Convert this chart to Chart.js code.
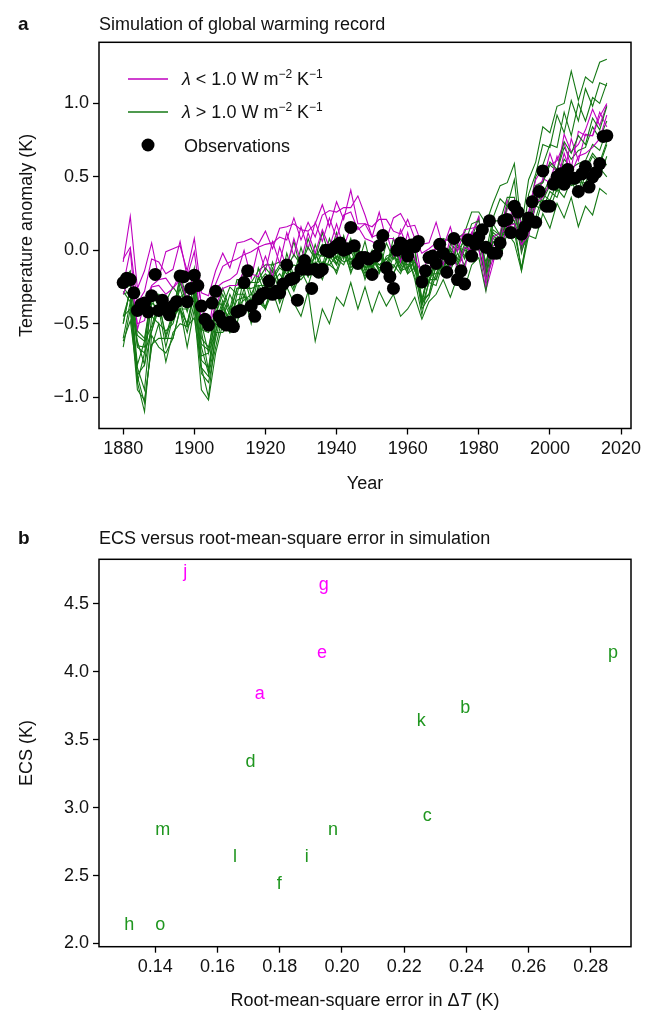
<!DOCTYPE html>
<html>
<head>
<meta charset="utf-8">
<title>Simulation of global warming record</title>
<script src="https://cdn.jsdelivr.net/npm/chart.js@4.4.1/dist/chart.umd.min.js"></script>
<style>
  html, body { margin: 0; padding: 0; background: #fff; }
  .panel { position: absolute; left: 0; width: 649px; }
</style>
</head>
<body>
<div class="panel" style="top:0;height:500px"><canvas id="warming" width="649" height="500"></canvas></div>
<div class="panel" style="top:500px;height:511px"><canvas id="ecs" width="649" height="511"></canvas></div>
<script>
const FONT = '"Liberation Sans", Arial, sans-serif';
const MAGENTA_LINE = '#bf00bf', GREEN_LINE = '#157815';
const MAGENTA_TEXT = '#ff00ff', GREEN_TEXT = '#1f961f';

// ---- panel a : temperature anomaly (K) ----
const obsStartYear = 1880;
const observations = [
  -0.22, -0.19, -0.20, -0.29, -0.41, -0.37, -0.36, -0.42, -0.31, -0.165,
  -0.41, -0.34, -0.40, -0.44, -0.38, -0.35, -0.175, -0.18, -0.35, -0.26,
  -0.17, -0.24, -0.38, -0.47, -0.51, -0.36, -0.28, -0.45, -0.49, -0.51,
  -0.49, -0.52, -0.42, -0.41, -0.22, -0.14, -0.38, -0.45, -0.33, -0.30,
  -0.29, -0.21, -0.30, -0.28, -0.29, -0.23, -0.10, -0.20, -0.19, -0.34,
  -0.13, -0.07, -0.13, -0.26, -0.13, -0.15, -0.13, 0.00, -0.01, 0.01,
  0.03, 0.05, 0.00, 0.01, 0.155, 0.03, -0.09, -0.05, -0.05, -0.06,
  -0.165, -0.04, 0.03, 0.10, -0.12, -0.18, -0.26, 0.00, 0.05, 0.03,
  -0.04, 0.035, 0.025, 0.06, -0.215, -0.14, -0.05, -0.04, -0.09, 0.04,
  -0.02, -0.15, -0.06, 0.08, -0.20, -0.14, -0.23, 0.07, -0.04, 0.04,
  0.09, 0.14, 0.02, 0.20, -0.02, -0.02, 0.05, 0.20, 0.21, 0.12,
  0.30, 0.26, 0.11, 0.16, 0.22, 0.33, 0.19, 0.40, 0.54, 0.30,
  0.30, 0.45, 0.50, 0.52, 0.45, 0.55, 0.49, 0.49, 0.40, 0.52,
  0.57, 0.43, 0.50, 0.53, 0.59, 0.775, 0.78
];

// simulations, one value every 2 years from 1880 to 2016
const simStartYear = 1880, simStep = 2;
const simA = [
  -0.30, -0.18, -0.50, -0.48, -0.25, -0.24, -0.30, -0.26, -0.20, -0.34,
  -0.14, -0.48, -0.52, -0.38, -0.26, -0.24, -0.24, -0.14, -0.16, -0.18,
  -0.04, -0.18, 0.02, -0.12, 0.08, -0.08, 0.12, -0.02, 0.14, 0.02,
  0.18, 0.02, 0.16, 0.16, 0.08, 0.06, 0.02, 0.08, 0.08, -0.08,
  0.12, -0.06, -0.16, -0.16, 0.04, -0.10, 0.08, -0.14, 0.02, 0.00,
  0.14, -0.20, -0.06, 0.00, 0.16, 0.18, 0.04, 0.10, 0.32, 0.36,
  0.46, 0.46, 0.66, 0.52, 0.64, 0.66, 0.70, 0.76, 0.92
];
const simB = [
  -0.28, -0.35, -0.62, -0.78, -0.33, -0.45, -0.40, -0.48, -0.22, -0.38,
  -0.32, -0.55, -0.82, -0.38, -0.47, -0.30, -0.41, -0.18, -0.35, -0.12,
  -0.26, -0.08, -0.25, -0.02, -0.18, 0.02, -0.14, 0.04, -0.11, 0.08,
  -0.06, 0.10, -0.09, 0.03, -0.12, 0.00, -0.15, 0.05, -0.06, 0.02,
  -0.12, 0.00, -0.36, -0.14, -0.20, 0.02, -0.04, 0.10, 0.04, 0.18,
  0.20, -0.02, 0.22, 0.35, 0.30, 0.48, 0.02, 0.38, 0.52, 0.72,
  0.70, 0.92, 0.80, 1.02, 0.88, 1.10, 0.98, 1.14, 1.12
];
const simC = [
  -0.45, -0.28, -0.78, -0.62, -0.52, -0.35, -0.60, -0.44, -0.40, -0.50,
  -0.28, -0.72, -0.70, -0.55, -0.36, -0.50, -0.38, -0.34, -0.30, -0.35,
  -0.40, -0.28, -0.42, -0.25, -0.36, -0.45, -0.28, -0.62, -0.40, -0.50,
  -0.32, -0.38, -0.22, -0.40, -0.25, -0.42, -0.28, -0.38, -0.30, -0.45,
  -0.40, -0.32, -0.47, -0.35, -0.30, -0.20, -0.32, -0.18, -0.26, -0.10,
  -0.05, -0.28, 0.02, -0.06, 0.12, 0.05, -0.14, 0.10, 0.08, 0.25,
  0.15, 0.32, 0.22, 0.36, 0.16, 0.30, 0.24, 0.42, 0.38
];
const simD = [
  -0.25, -0.32, -0.58, -0.62, -0.30, -0.38, -0.35, -0.25, -0.32, -0.28,
  -0.24, -0.50, -0.70, -0.34, -0.38, -0.25, -0.30, -0.12, -0.30, -0.20,
  -0.12, -0.18, -0.10, -0.12, -0.03, -0.10, 0.02, -0.06, 0.04, -0.02,
  0.06, -0.04, 0.02, -0.08, -0.02, -0.12, 0.04, -0.14, 0.03, -0.10,
  0.02, -0.14, -0.25, -0.20, -0.05, -0.12, 0.02, -0.06, 0.10, 0.05,
  0.16, -0.12, 0.18, 0.10, 0.30, 0.25, 0.08, 0.18, 0.44, 0.46,
  0.60, 0.55, 0.74, 0.66, 0.78, 0.72, 0.90, 0.82, 0.98
];
const simE = [
  -0.24, 0.00, -0.54, -0.36, -0.24, -0.20, -0.19, -0.26, -0.16, -0.16,
  -0.14, -0.36, -0.54, -0.26, -0.22, -0.20, -0.16, 0.00, -0.19, 0.02,
  -0.14, 0.06, -0.09, 0.12, -0.04, 0.16, 0.01, 0.19, 0.06, 0.22,
  0.08, 0.24, 0.26, 0.14, 0.18, 0.09, 0.11, 0.12, -0.04, 0.14,
  0.01, 0.06, -0.19, -0.01, 0.01, 0.04, -0.12, 0.09, -0.14, 0.12,
  0.01, -0.27, -0.09, 0.12, 0.14, 0.34, 0.01, 0.24, 0.31, 0.49,
  0.46, 0.64, 0.51, 0.76, 0.61, 0.79, 0.78, 0.94, 0.84
];
const simF = [
  -0.50, -0.26, -0.85, -0.78, -0.55, -0.36, -0.58, -0.42, -0.40, -0.50,
  -0.28, -0.75, -0.80, -0.56, -0.38, -0.50, -0.30, -0.30, -0.40, -0.18,
  -0.30, -0.14, -0.28, -0.08, -0.22, -0.04, -0.18, -0.02, -0.14, 0.02,
  -0.10, 0.04, -0.12, -0.06, -0.16, -0.02, -0.14, -0.08, -0.16, -0.04,
  -0.16, -0.06, -0.38, -0.22, -0.24, -0.08, -0.14, -0.02, -0.10, 0.04,
  0.00, -0.16, 0.06, 0.00, 0.16, 0.12, -0.12, 0.14, 0.18, 0.34,
  0.28, 0.42, 0.36, 0.48, 0.36, 0.52, 0.45, 0.56, 0.50
];
const simG = [
  -0.06, 0.02, -0.36, -0.28, -0.06, -0.08, -0.16, -0.13, 0.06, -0.18,
  -0.01, -0.38, -0.36, -0.23, -0.11, -0.08, -0.06, -0.03, -0.01, 0.02,
  0.04, 0.05, 0.09, 0.07, 0.22, 0.07, 0.19, 0.09, 0.24, 0.27,
  0.26, 0.29, 0.29, 0.37, 0.24, 0.09, 0.26, 0.07, 0.22, 0.25,
  0.16, 0.17, 0.04, 0.05, 0.19, 0.02, 0.16, -0.01, 0.14, 0.15,
  0.16, -0.13, 0.09, 0.12, 0.34, 0.22, 0.14, 0.22, 0.44, 0.47,
  0.66, 0.52, 0.79, 0.67, 0.72, 0.82, 0.96, 0.85, 0.99
];
const simH = [
  -0.26, -0.24, -0.55, -0.60, -0.30, -0.34, -0.36, -0.40, -0.20, -0.36,
  -0.18, -0.54, -0.56, -0.44, -0.30, -0.42, -0.26, -0.24, -0.22, -0.22,
  -0.16, -0.20, -0.12, -0.16, -0.10, -0.12, -0.05, -0.10, -0.02, -0.06,
  -0.02, -0.04, 0.00, -0.12, -0.02, -0.14, 0.00, -0.14, -0.02, -0.12,
  0.00, -0.14, -0.22, -0.22, -0.06, -0.12, 0.00, -0.08, 0.04, -0.02,
  0.08, -0.08, 0.10, 0.06, 0.20, 0.18, 0.06, 0.12, 0.30, 0.28,
  0.40, 0.36, 0.50, 0.44, 0.46, 0.46, 0.56, 0.50, 0.64
];
const simI = [
  -0.60, -0.35, -0.90, -1.10, -0.58, -0.66, -0.70, -0.60, -0.40, -0.66,
  -0.40, -0.95, -1.02, -0.70, -0.50, -0.56, -0.44, -0.40, -0.42, -0.36,
  -0.38, -0.26, -0.34, -0.18, -0.28, -0.14, -0.24, -0.08, -0.20, -0.06,
  -0.16, -0.02, -0.14, -0.08, -0.18, -0.06, -0.14, -0.12, -0.16, -0.06,
  -0.16, -0.12, -0.40, -0.32, -0.16, -0.16, -0.06, -0.10, 0.00, -0.02,
  0.02, -0.20, 0.06, 0.04, 0.18, 0.18, -0.14, 0.16, 0.22, 0.38,
  0.34, 0.46, 0.44, 0.54, 0.40, 0.56, 0.50, 0.62, 0.58
];
const simJ = [
  -0.08, 0.23, -0.26, -0.14, 0.05, -0.19, -0.01, 0.01, 0.03, -0.14,
  0.08, -0.29, -0.31, -0.14, -0.02, -0.12, 0.05, 0.06, 0.08, 0.04,
  0.13, 0.01, 0.15, 0.16, 0.18, 0.14, 0.13, 0.18, 0.31, 0.16,
  0.33, 0.21, 0.41, 0.18, 0.18, 0.16, 0.21, 0.21, 0.13, 0.11,
  0.21, 0.08, -0.02, 0.01, 0.05, 0.06, 0.08, 0.08, 0.11, 0.11,
  0.23, -0.24, 0.03, 0.06, 0.28, 0.31, 0.18, 0.26, 0.48, 0.56,
  0.58, 0.61, 0.73, 0.56, 0.81, 0.78, 0.78, 0.91, 1.00
];
const simK = [
  -0.20, -0.14, -0.65, -0.66, -0.30, -0.30, -0.40, -0.45, -0.16, -0.34,
  -0.12, -0.60, -0.66, -0.44, -0.26, -0.40, -0.20, -0.20, -0.22, -0.14,
  -0.10, -0.10, -0.08, -0.12, 0.06, -0.14, 0.08, -0.06, 0.12, -0.04,
  0.12, -0.06, 0.08, -0.10, 0.06, -0.14, 0.04, -0.12, 0.08, -0.06,
  0.04, -0.12, -0.26, -0.22, -0.08, -0.10, 0.04, 0.00, 0.06, 0.08,
  0.22, -0.14, 0.20, 0.20, 0.36, 0.36, 0.04, 0.24, 0.50, 0.58,
  0.72, 0.70, 0.94, 0.78, 1.00, 0.88, 1.04, 1.00, 1.14
];
const simL = [
  -0.45, -0.40, -0.80, -0.95, -0.45, -0.50, -0.55, -0.50, -0.34, -0.52,
  -0.30, -0.80, -0.86, -0.60, -0.40, -0.46, -0.34, -0.32, -0.34, -0.30,
  -0.30, -0.22, -0.16, -0.24, -0.20, -0.08, -0.10, -0.18, -0.12, -0.02,
  -0.06, -0.10, 0.02, 0.00, -0.12, -0.10, -0.16, -0.04, -0.02, -0.14,
  -0.12, -0.08, -0.36, -0.30, -0.10, -0.06, -0.12, 0.02, 0.00, 0.08,
  0.14, -0.14, 0.08, 0.06, 0.22, 0.20, 0.02, 0.12, 0.34, 0.36,
  0.46, 0.44, 0.56, 0.50, 0.54, 0.56, 0.66, 0.60, 0.74
];
const simM = [
  -0.30, -0.28, -0.66, -0.70, -0.36, -0.40, -0.46, -0.44, -0.26, -0.42,
  -0.24, -0.64, -0.68, -0.50, -0.34, -0.44, -0.26, -0.26, -0.26, -0.24,
  -0.24, -0.12, -0.22, -0.10, -0.18, -0.06, -0.16, -0.02, -0.12, 0.00,
  -0.09, 0.02, -0.10, 0.00, -0.14, -0.04, -0.10, -0.06, -0.12, -0.02,
  -0.10, -0.06, -0.34, -0.16, -0.16, -0.04, -0.10, 0.04, -0.04, 0.10,
  0.12, -0.12, 0.12, 0.08, 0.24, 0.24, 0.06, 0.14, 0.36, 0.38,
  0.49, 0.46, 0.62, 0.56, 0.59, 0.61, 0.72, 0.68, 0.82
];
const simN = [
  -0.66, -0.40, -0.95, -1.02, -0.66, -0.50, -0.76, -0.56, -0.50, -0.52,
  -0.46, -0.80, -1.00, -0.56, -0.56, -0.50, -0.50, -0.30, -0.50, -0.26,
  -0.40, -0.20, -0.36, -0.24, -0.20, -0.20, -0.14, -0.16, -0.10, -0.10,
  -0.14, 0.02, -0.16, -0.02, -0.20, -0.06, -0.12, -0.10, -0.10, -0.16,
  -0.04, -0.20, -0.44, -0.20, -0.20, -0.06, -0.10, 0.04, -0.06, 0.12,
  0.08, -0.16, 0.14, 0.10, 0.30, 0.30, -0.02, 0.16, 0.42, 0.46,
  0.58, 0.54, 0.70, 0.62, 0.68, 0.70, 0.84, 0.76, 0.88
];
const simO = [
  -0.62, -0.48, -0.86, -1.04, -0.64, -0.60, -0.60, -0.60, -0.40, -0.56,
  -0.36, -0.84, -0.90, -0.66, -0.44, -0.56, -0.38, -0.38, -0.36, -0.34,
  -0.26, -0.28, -0.24, -0.22, -0.16, -0.18, -0.10, -0.14, -0.08, -0.10,
  -0.04, -0.08, -0.06, -0.10, -0.08, -0.12, 0.00, -0.18, -0.04, -0.14,
  -0.04, -0.18, -0.34, -0.30, -0.10, -0.14, 0.00, -0.10, 0.02, 0.00,
  0.14, -0.14, 0.10, 0.06, 0.22, 0.20, 0.00, 0.10, 0.32, 0.34,
  0.44, 0.40, 0.54, 0.50, 0.52, 0.54, 0.64, 0.58, 0.72
];
const simP = [
  -0.50, -0.26, -0.90, -0.70, -0.55, -0.40, -0.66, -0.45, -0.40, -0.40,
  -0.34, -0.66, -0.84, -0.50, -0.54, -0.40, -0.42, -0.26, -0.44, -0.24,
  -0.30, -0.26, -0.24, -0.12, -0.26, -0.06, -0.18, -0.02, -0.04, -0.04,
  -0.10, 0.08, -0.06, -0.04, -0.04, -0.08, -0.10, -0.06, -0.02, 0.00,
  -0.14, 0.02, -0.34, -0.12, -0.12, 0.08, 0.06, 0.08, 0.12, 0.26,
  0.26, 0.18, 0.32, 0.44, 0.46, 0.59, 0.16, 0.48, 0.60, 0.84,
  0.80, 0.98, 1.00, 1.22, 1.02, 1.18, 1.14, 1.28, 1.30
];
const simulations = [
  ['a', simA], ['b', simB], ['c', simC], ['d', simD], ['e', simE], ['f', simF],
  ['g', simG], ['h', simH], ['i', simI], ['j', simJ], ['k', simK], ['l', simL],
  ['m', simM], ['n', simN], ['o', simO], ['p', simP]
];
const yearTicks = [1880, 1900, 1920, 1940, 1960, 1980, 2000, 2020];
const anomalyTicks = [-1.0, -0.5, 0.0, 0.5, 1.0];

// ---- panel b : ECS vs RMSE ----
const modelNames = ['a', 'b', 'c', 'd', 'e', 'f', 'g', 'h', 'i', 'j', 'k', 'l', 'm', 'n', 'o', 'p'];
const rmseValues = [0.172, 0.238, 0.226, 0.169, 0.192, 0.179, 0.1925, 0.130, 0.188, 0.149, 0.224, 0.165, 0.140, 0.1955, 0.140, 0.2855];
const ecsValues  = [3.8, 3.7, 2.9, 3.3, 4.1, 2.4, 4.6, 2.1, 2.6, 4.7, 3.6, 2.6, 2.8, 2.8, 2.1, 4.1];
const lowLambdaModels = ['a', 'e', 'g', 'j'];
const rmseTicks = [0.14, 0.16, 0.18, 0.20, 0.22, 0.24, 0.26, 0.28];
const ecsTicks = [2.0, 2.5, 3.0, 3.5, 4.0, 4.5];

const fmt = (v, d) => v.toFixed(d).replace('-', '\u2212');

// draws a run of text pieces (italic / superscript) starting at x
function drawRich(ctx, parts, x, y, align) {
  const fontOf = p => (p.italic ? 'italic ' : '') + (p.sup ? '12px ' : '18px ') + FONT;
  let width = 0;
  parts.forEach(p => { ctx.font = fontOf(p); width += ctx.measureText(p.text).width; });
  let cx = align === 'center' ? x - width / 2 : x;
  ctx.textAlign = 'left';
  parts.forEach(p => {
    ctx.font = fontOf(p);
    ctx.fillText(p.text, cx, p.sup ? y - 7 : y);
    cx += ctx.measureText(p.text).width;
  });
}

const decorPlugin = {
  id: 'panelDecor',
  afterDraw(chart, args, opts) {
    const ctx = chart.ctx, a = chart.chartArea;
    ctx.save();
    ctx.strokeStyle = '#000';
    ctx.lineWidth = 1.5;
    ctx.strokeRect(a.left, a.top, a.right - a.left, a.bottom - a.top);

    ctx.fillStyle = '#111';
    ctx.textBaseline = 'alphabetic';
    ctx.textAlign = 'left';
    ctx.font = 'bold 19px ' + FONT;
    ctx.fillText(opts.letter, 18, opts.titleY);
    ctx.font = '18px ' + FONT;
    ctx.fillText(opts.title, a.left, opts.titleY);

    drawRich(ctx, opts.xTitle, (a.left + a.right) / 2, opts.xTitleY, 'center');

    ctx.translate(32, (a.top + a.bottom) / 2);
    ctx.rotate(-Math.PI / 2);
    ctx.textAlign = 'center';
    ctx.font = '18px ' + FONT;
    ctx.fillText(opts.yTitle, 0, 0);
    ctx.restore();
  }
};

const legendPlugin = {
  id: 'simLegend',
  afterDatasetsDraw(chart) {
    const ctx = chart.ctx;
    ctx.save();
    ctx.textBaseline = 'alphabetic';
    const rows = [
      { color: MAGENTA_LINE, y: 79, sign: ' < ' },
      { color: GREEN_LINE, y: 112, sign: ' > ' }
    ];
    rows.forEach(r => {
      ctx.strokeStyle = r.color;
      ctx.lineWidth = 1.3;
      ctx.beginPath();
      ctx.moveTo(128, r.y);
      ctx.lineTo(168, r.y);
      ctx.stroke();
      ctx.fillStyle = '#111';
      drawRich(ctx, [
        { text: '\u03bb', italic: true }, { text: r.sign + '1.0 W m' }, { text: '\u22122', sup: true },
        { text: ' K' }, { text: '\u22121', sup: true }
      ], 182, r.y + 6, 'left');
    });
    ctx.fillStyle = '#000';
    ctx.beginPath();
    ctx.arc(148, 145, 6.5, 0, Math.PI * 2);
    ctx.fill();
    ctx.fillStyle = '#111';
    ctx.font = '18px ' + FONT;
    ctx.textAlign = 'left';
    ctx.fillText('Observations', 184, 151.5);
    ctx.restore();
  }
};

const letterPlugin = {
  id: 'modelLetters',
  afterDatasetsDraw(chart) {
    const ctx = chart.ctx;
    const meta = chart.getDatasetMeta(0);
    ctx.save();
    ctx.font = '18px ' + FONT;
    ctx.textAlign = 'left';
    ctx.textBaseline = 'alphabetic';
    meta.data.forEach((pt, i) => {
      ctx.fillStyle = lowLambdaModels.includes(modelNames[i]) ? MAGENTA_TEXT : GREEN_TEXT;
      ctx.fillText(modelNames[i], pt.x, pt.y);
    });
    ctx.restore();
  }
};

function axisStyle(tickList, digits, extent) {
  return {
    type: 'linear',
    afterBuildTicks: s => { s.ticks = tickList.map(v => ({ value: v })); },
    afterFit: s => { if (s.isHorizontal()) s.height = extent; else s.width = extent; },
    grid: { drawOnChartArea: false, drawTicks: true, tickLength: 6, tickWidth: 1.3, tickColor: '#000' },
    border: { display: false },
    ticks: {
      font: { family: FONT, size: 18 }, color: '#111', padding: 4,
      autoSkip: false, maxRotation: 0,
      callback: v => digits === 0 ? String(v) : fmt(v, digits)
    }
  };
}

// ---- chart a ----
const simDatasets = simulations.map(([name, vals]) => ({
  label: name,
  data: vals.map((v, i) => ({ x: simStartYear + simStep * i, y: v })),
  borderColor: lowLambdaModels.includes(name) ? MAGENTA_LINE : GREEN_LINE,
  borderWidth: 1.1,
  pointRadius: 0,
  tension: 0,
  fill: false,
  order: 1
}));

new Chart(document.getElementById('warming'), {
  type: 'line',
  data: {
    datasets: simDatasets.concat([{
      type: 'scatter',
      label: 'Observations',
      data: observations.map((v, i) => ({ x: obsStartYear + i, y: v })),
      showLine: false,
      pointRadius: 6.5,
      pointBackgroundColor: '#000',
      pointBorderWidth: 0,
      order: 0
    }])
  },
  options: {
    responsive: false,
    animation: false,
    events: [],
    layout: { padding: { top: 42.3, right: 18, left: 0, bottom: 0 } },
    scales: {
      x: Object.assign(axisStyle(yearTicks, 0, 71.5), { min: 1873.2, max: 2022.8 }),
      y: Object.assign(axisStyle(anomalyTicks, 1, 99), { min: -1.214, max: 1.416 })
    },
    plugins: {
      legend: { display: false },
      tooltip: { enabled: false },
      panelDecor: {
        letter: 'a', title: 'Simulation of global warming record', titleY: 30,
        xTitle: [{ text: 'Year' }], xTitleY: 489,
        yTitle: 'Temperature anomaly (K)'
      }
    }
  },
  plugins: [legendPlugin, decorPlugin]
});

// ---- chart b ----
new Chart(document.getElementById('ecs'), {
  type: 'scatter',
  data: {
    datasets: [{
      label: 'models',
      data: modelNames.map((n, i) => ({ x: rmseValues[i], y: ecsValues[i] })),
      pointRadius: 0
    }]
  },
  options: {
    responsive: false,
    animation: false,
    events: [],
    layout: { padding: { top: 59.3, right: 18, left: 0, bottom: 0 } },
    scales: {
      x: Object.assign(axisStyle(rmseTicks, 2, 64.3), { min: 0.1219, max: 0.2929 }),
      y: Object.assign(axisStyle(ecsTicks, 1, 99), { min: 1.976, max: 4.829 })
    },
    plugins: {
      legend: { display: false },
      tooltip: { enabled: false },
      panelDecor: {
        letter: 'b', title: 'ECS versus root-mean-square error in simulation', titleY: 44,
        xTitle: [{ text: 'Root-mean-square error in \u0394' }, { text: 'T', italic: true }, { text: ' (K)' }],
        xTitleY: 506,
        yTitle: 'ECS (K)'
      }
    }
  },
  plugins: [letterPlugin, decorPlugin]
});
</script>
</body>
</html>
